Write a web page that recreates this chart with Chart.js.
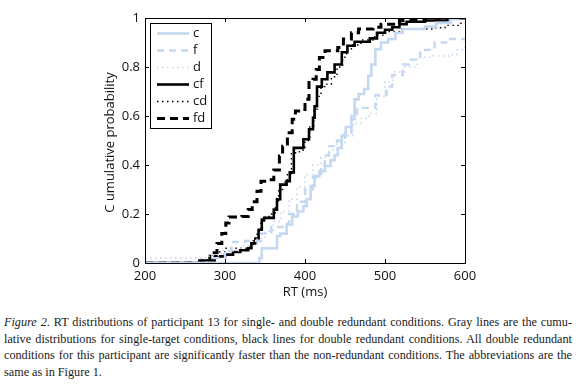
<!DOCTYPE html>
<html>
<head>
<meta charset="utf-8">
<script src="https://cdn.jsdelivr.net/npm/chart.js@4.4.1/dist/chart.umd.min.js"></script>
<style>
  html, body { margin: 0; padding: 0; background: #fff; }
  body { width: 580px; height: 385px; position: relative; overflow: hidden; }
  #chart { position: absolute; left: 0; top: 0; }
  #caption { position: absolute; left: 4px; top: 314px; width: 568px; font-family: "Liberation Serif", "Times New Roman", serif; font-size: 12.2px; line-height: 16.5px; color: #1a1a1a; }
  #caption div { white-space: nowrap; }
  #caption .j { text-align: justify; text-align-last: justify; white-space: normal; height: 16.5px; overflow: visible; }
</style>
</head>
<body>
<canvas id="chart" width="580" height="300"></canvas>
<div id="caption">
  <div class="j"><i>Figure 2</i>. RT distributions of participant 13 for single- and double redundant conditions. Gray lines are the cumu-</div>
  <div class="j">lative distributions for single-target conditions, black lines for double redundant conditions. All double redundant</div>
  <div class="j">conditions for this participant are significantly faster than the non-redundant conditions. The abbreviations are the</div>
  <div>same as in Figure 1.</div>
</div>
<script>
// ---- data ----
const seriesNames = ['c', 'f', 'd', 'cf', 'cd', 'fd'];
const xTickLabels = ['200', '300', '400', '500', '600'];
const yTickLabels = ['0', '0.2', '0.4', '0.6', '0.8', '1'];

const cX = [200, 340, 343, 346, 365, 369, 377, 384, 391, 398, 402, 407, 412, 418, 425, 432, 437, 441, 446, 451, 458, 462, 467, 474, 479, 483, 488, 495, 504, 513, 522, 550, 564, 582, 591, 600];
const cY = [0, 0, 0.02, 0.06, 0.11, 0.12, 0.157, 0.19, 0.21, 0.232, 0.26, 0.314, 0.355, 0.375, 0.396, 0.42, 0.44, 0.47, 0.52, 0.555, 0.587, 0.668, 0.69, 0.71, 0.764, 0.81, 0.873, 0.9, 0.914, 0.94, 0.955, 0.965, 0.98, 0.995, 1.0, 1.0];

const fX = [200, 285, 300, 308, 325, 345, 358, 372, 380, 390, 400, 410, 420, 425, 430, 440, 450, 458, 465, 472, 488, 502, 509, 522, 530, 544, 562, 579, 600];
const fY = [0, 0.02, 0.05, 0.086, 0.09, 0.12, 0.147, 0.16, 0.2, 0.25, 0.3, 0.35, 0.4, 0.44, 0.477, 0.5, 0.53, 0.6, 0.627, 0.633, 0.686, 0.72, 0.767, 0.81, 0.83, 0.87, 0.9, 0.914, 0.914];

const dX = [200, 280, 295, 320, 340, 350, 360, 370, 380, 390, 400, 410, 420, 430, 440, 450, 460, 470, 480, 490, 500, 510, 525, 540, 560, 580, 590, 600];
const dY = [0.02, 0.03, 0.05, 0.07, 0.1, 0.13, 0.17, 0.21, 0.26, 0.31, 0.36, 0.4, 0.43, 0.46, 0.49, 0.52, 0.57, 0.59, 0.61, 0.68, 0.74, 0.78, 0.8, 0.84, 0.845, 0.85, 0.87, 0.9];

const cfX = [200, 268, 287, 300, 310, 319, 329, 333, 338, 342, 346, 349, 361, 365, 369, 377, 381, 386, 398, 405, 410, 412, 415, 421, 428, 437, 446, 453, 462, 481, 490, 500, 509, 518, 527, 550, 578, 600];
const cfY = [0, 0.01, 0.027, 0.034, 0.045, 0.052, 0.06, 0.08, 0.1, 0.136, 0.177, 0.184, 0.218, 0.26, 0.32, 0.334, 0.37, 0.47, 0.505, 0.546, 0.593, 0.64, 0.72, 0.75, 0.778, 0.81, 0.86, 0.887, 0.903, 0.917, 0.94, 0.952, 0.962, 0.975, 0.985, 0.99, 1.0, 1.0];

const cdX = [200, 268, 285, 293, 300, 328, 335, 340, 345, 350, 358, 363, 367, 372, 378, 383, 393, 400, 406, 411, 415, 420, 425, 433, 440, 447, 452, 458, 470, 487, 500, 518, 560, 575, 595, 600];
const cdY = [0, 0.012, 0.03, 0.045, 0.06, 0.065, 0.09, 0.13, 0.17, 0.19, 0.2, 0.24, 0.3, 0.33, 0.36, 0.45, 0.46, 0.5, 0.56, 0.62, 0.68, 0.72, 0.73, 0.76, 0.8, 0.84, 0.87, 0.89, 0.91, 0.93, 0.945, 0.955, 0.96, 0.97, 0.98, 0.98];

const fdX = [200, 281, 290, 296, 301, 305, 321, 329, 334, 340, 345, 355, 361, 368, 372, 378, 384, 388, 397, 400, 405, 410, 414, 418, 425, 441, 448, 458, 467, 485, 495, 518, 550, 600];
const fdY = [0, 0.042, 0.08, 0.12, 0.163, 0.188, 0.19, 0.218, 0.25, 0.293, 0.334, 0.34, 0.38, 0.437, 0.477, 0.532, 0.587, 0.62, 0.627, 0.668, 0.737, 0.75, 0.79, 0.839, 0.866, 0.88, 0.914, 0.94, 0.955, 0.962, 0.975, 0.99, 1.0, 1.0];

// ---- styles ----
const LIGHT = '#c4d8f0';
const toPts = (xs, ys) => xs.map((x, i) => ({ x: x, y: ys[i] }));
const datasets = [
  { label: seriesNames[0], data: toPts(cX, cY), borderColor: LIGHT, borderWidth: 2.6, borderDash: [] },
  { label: seriesNames[1], data: toPts(fX, fY), borderColor: LIGHT, borderWidth: 2.4, borderDash: [7, 5] },
  { label: seriesNames[2], data: toPts(dX, dY), borderColor: LIGHT, borderWidth: 1.6, borderDash: [1.5, 3.5] },
  { label: seriesNames[3], data: toPts(cfX, cfY), borderColor: '#000', borderWidth: 2.6, borderDash: [] },
  { label: seriesNames[4], data: toPts(cdX, cdY), borderColor: '#000', borderWidth: 1.4, borderDash: [1.5, 3.5] },
  { label: seriesNames[5], data: toPts(fdX, fdY), borderColor: '#000', borderWidth: 3, borderDash: [8, 5] }
].map(d => Object.assign(d, { stepped: true, pointRadius: 0, fill: false, tension: 0, borderCapStyle: 'butt' }));

const FONT = '"Open Sans", "DejaVu Sans", sans-serif';

const framePlugin = {
  id: 'frame',
  afterDraw(chart) {
    const ctx = chart.ctx, a = chart.chartArea;
    const xs = chart.scales.x, ys = chart.scales.y;
    ctx.save();
    ctx.strokeStyle = '#000';
    ctx.lineWidth = 1;
    ctx.setLineDash([]);
    ctx.strokeRect(Math.round(a.left) + 0.5, Math.round(a.top) + 0.5, Math.round(a.right - a.left), Math.round(a.bottom - a.top));
    const tl = 4;
    ctx.beginPath();
    xs.ticks.forEach(t => {
      const px = Math.round(xs.getPixelForValue(t.value)) + 0.5;
      ctx.moveTo(px, a.bottom); ctx.lineTo(px, a.bottom - tl);
      ctx.moveTo(px, a.top); ctx.lineTo(px, a.top + tl);
    });
    ys.ticks.forEach(t => {
      const py = Math.round(ys.getPixelForValue(t.value)) + 0.5;
      ctx.moveTo(a.left, py); ctx.lineTo(a.left + tl, py);
      ctx.moveTo(a.right, py); ctx.lineTo(a.right - tl, py);
    });
    ctx.stroke();

    // axis titles
    ctx.fillStyle = '#111';
    ctx.font = '13px ' + FONT;
    ctx.textAlign = 'center';
    ctx.textBaseline = 'middle';
    ctx.fillText('RT (ms)', (a.left + a.right) / 2, 292);
    ctx.save();
    ctx.translate(110, (a.top + a.bottom) / 2 + 2);
    ctx.rotate(-Math.PI / 2);
    ctx.fillText('C umulative probability', 0, 0);
    ctx.restore();

    // legend
    const bx = 150.5, by = 23.5, bw = 61, bh = 105;
    ctx.fillStyle = '#fff';
    ctx.fillRect(bx, by, bw, bh);
    ctx.strokeStyle = '#000';
    ctx.lineWidth = 1;
    ctx.strokeRect(bx, by, bw, bh);
    chart.data.datasets.forEach((ds, i) => {
      const yy = 33.5 + i * 17;
      ctx.save();
      ctx.strokeStyle = ds.borderColor;
      ctx.lineWidth = ds.borderWidth;
      ctx.setLineDash(ds.borderDash);
      ctx.lineCap = 'butt';
      ctx.beginPath();
      ctx.moveTo(157, yy); ctx.lineTo(189, yy);
      ctx.stroke();
      ctx.restore();
      ctx.fillStyle = '#111';
      ctx.font = '13px ' + FONT;
      ctx.textAlign = 'left';
      ctx.textBaseline = 'middle';
      ctx.fillText(ds.label, 193, yy);
    });
    ctx.restore();
  }
};

new Chart(document.getElementById('chart'), {
  type: 'line',
  data: { datasets: datasets },
  plugins: [framePlugin],
  options: {
    responsive: false,
    animation: false,
    devicePixelRatio: 1,
    layout: { padding: { left: 0, right: 115, top: 18, bottom: 0 } },
    plugins: { legend: { display: false }, tooltip: { enabled: false } },
    scales: {
      x: {
        type: 'linear', min: 200, max: 600,
        grid: { display: false, drawTicks: false },
        border: { display: false },
        ticks: { stepSize: 100, padding: 5, color: '#111', font: { size: 13, family: FONT }, maxRotation: 0,
                 callback: (v, i) => xTickLabels[i] },
        afterFit: s => { s.height = 37; }
      },
      y: {
        type: 'linear', min: 0, max: 1,
        grid: { display: false, drawTicks: false },
        border: { display: false },
        ticks: { stepSize: 0.2, padding: 5, color: '#111', font: { size: 13, family: FONT },
                 callback: (v, i) => yTickLabels[i] },
        afterFit: s => { s.width = 145; }
      }
    }
  }
});
</script>
</body>
</html>
